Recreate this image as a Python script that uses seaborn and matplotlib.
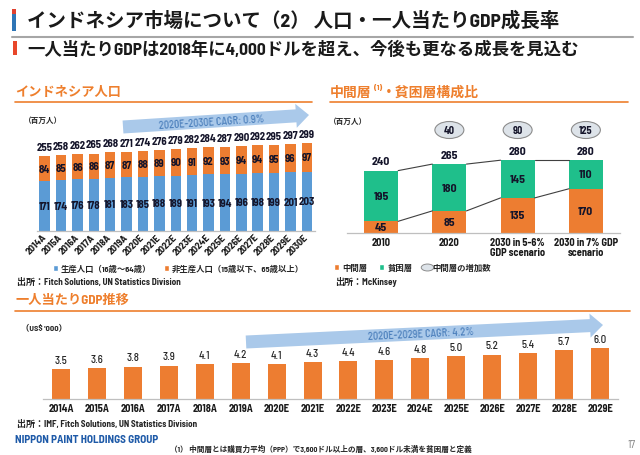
import numpy as np
import matplotlib
matplotlib.use("Agg")
import matplotlib.pyplot as plt
import matplotlib.transforms as mtransforms
import seaborn as sns
from matplotlib.patches import Rectangle, FancyArrow, Ellipse, Patch
from matplotlib.lines import Line2D
from matplotlib.path import Path

# ---------------- data ----------------
pop_years = ['2014A', '2015A', '2016A', '2017A', '2018A', '2019A', '2020E', '2021E',
             '2022E', '2023E', '2024E', '2025E', '2026E', '2027E', '2028E', '2029E', '2030E']
pop_total = [255, 258, 262, 265, 268, 271, 274, 276, 279, 282, 284, 287, 290, 292, 295, 297, 299]
pop_nonworking = [84, 85, 86, 86, 87, 87, 88, 89, 90, 91, 92, 93, 94, 94, 95, 96, 97]
pop_working = [171, 174, 176, 178, 181, 183, 185, 188, 189, 191, 193, 194, 196, 198, 199, 201, 203]
pop_cagr = '2020E-2030E CAGR: 0.9%'

mc_categories = ['2010', '2020', '2030 in 5-6%\nGDP scenario', '2030 in 7% GDP\nscenario']
mc_middle = [45, 85, 135, 170]
mc_poor = [195, 180, 145, 110]
mc_total = [240, 265, 280, 280]
mc_increase = [None, 40, 90, 125]

gdp_years = ['2014A', '2015A', '2016A', '2017A', '2018A', '2019A', '2020E', '2021E',
             '2022E', '2023E', '2024E', '2025E', '2026E', '2027E', '2028E', '2029E']
gdp_values = [3.5, 3.6, 3.8, 3.9, 4.1, 4.2, 4.1, 4.3, 4.4, 4.6, 4.8, 5.0, 5.2, 5.4, 5.7, 6.0]
gdp_cagr = '2020E-2029E CAGR: 4.2%'

# ---------------- style ----------------
sns.set_theme(style='white')
plt.rcParams['font.family'] = ['Barlow Semi Condensed', 'Noto Sans CJK JP', 'DejaVu Sans']
plt.rcParams['axes.unicode_minus'] = False

ORANGE = '#ed7d31'
BLUE = '#5b9bd5'
GREEN = '#1fbf8b'
LBL = '#14142a'
AXC = '#bfbfbf'
HEAD = '#ee7f2d'

W, H = 640, 456
fig = plt.figure(figsize=(6.4, 4.56), dpi=100)
fig.patch.set_facecolor('white')


def rect(l, r, b, t):
    return [l / W, 1 - b / H, (r - l) / W, (b - t) / H]


def style_axis(ax, n, fs):
    sns.despine(ax=ax, left=True)
    ax.spines['bottom'].set_color(AXC)
    ax.spines['bottom'].set_linewidth(0.9)
    ax.set_yticks([])
    ax.set_xlabel('')
    ax.set_ylabel('')
    ax.set_xlim(-0.5, n - 0.5)
    ax.set_xticks(np.arange(-0.5, n, 1.0), minor=True)
    ax.tick_params(axis='x', which='minor', length=3, color=AXC, width=0.8, direction='out')
    ax.tick_params(axis='x', which='major', length=0, labelsize=fs, labelcolor='#1a1a1a')
    ax.set_facecolor('none')


# ---------------- population chart ----------------
ax1 = fig.add_axes(rect(36.5, 315, 232, 232 - 0.293 * 320))
pop_stack = [w + n for w, n in zip(pop_working, pop_nonworking)]
sns.barplot(x=pop_years, y=pop_stack, color=ORANGE, width=0.64, saturation=1, linewidth=0, ax=ax1)
sns.barplot(x=pop_years, y=pop_working, color=BLUE, width=0.64, saturation=1, linewidth=0, ax=ax1)
for i, (w, n, t) in enumerate(zip(pop_working, pop_nonworking, pop_total)):
    ax1.text(i, w / 2, str(w), ha='center', va='center', fontsize=7.8, fontweight='bold', color=LBL)
    ax1.text(i, w + n / 2, str(n), ha='center', va='center', fontsize=7.8, fontweight='bold', color=LBL)
    ax1.annotate(str(t), xy=(i, w + n), xytext=(0, 3), textcoords='offset points',
                 ha='center', va='bottom', fontsize=7.8, fontweight='bold', color=LBL)
style_axis(ax1, len(pop_years), 7.2)
ax1.set_ylim(0, 320)
ax1.tick_params(axis='x', which='major', pad=3)
for lab in ax1.get_xticklabels():
    lab.set_rotation(45)
    lab.set_ha('right')
    lab.set_va('center')
    lab.set_rotation_mode('anchor')
    lab.set_fontweight('bold')

# ---------------- middle class chart ----------------
ax2 = fig.add_axes(rect(347, 620, 234, 234 - 0.26 * 320))
mc_stack = [m + p for m, p in zip(mc_middle, mc_poor)]
sns.barplot(x=mc_categories, y=mc_stack, color=GREEN, width=0.5, saturation=1, linewidth=0, ax=ax2)
sns.barplot(x=mc_categories, y=mc_middle, color=ORANGE, width=0.5, saturation=1, linewidth=0, ax=ax2)
bw = 0.5
for i in range(len(mc_categories) - 1):
    ax2.plot([i + bw / 2, i + 1 - bw / 2], [mc_stack[i], mc_stack[i + 1]], color='#404040', lw=0.8)
    ax2.plot([i + bw / 2, i + 1 - bw / 2], [mc_middle[i], mc_middle[i + 1]], color='#404040', lw=0.8)
for i, (m, p, t) in enumerate(zip(mc_middle, mc_poor, mc_total)):
    ax2.text(i, m / 2, str(m), ha='center', va='center', fontsize=8.5, fontweight='bold', color=LBL)
    ax2.text(i, m + p / 2, str(p), ha='center', va='center', fontsize=8.5, fontweight='bold', color=LBL)
    ax2.annotate(str(t), xy=(i, m + p), xytext=(0, 3), textcoords='offset points',
                 ha='center', va='bottom', fontsize=8.5, fontweight='bold', color=LBL)
style_axis(ax2, len(mc_categories), 7.5)
ax2.set_ylim(0, 320)
ax2.tick_params(axis='x', which='major', pad=3)
for lab in ax2.get_xticklabels():
    lab.set_fontweight('bold')
    lab.set_linespacing(1.0)
trans2 = mtransforms.blended_transform_factory(ax2.transData, fig.transFigure)
px_per_unit2 = 273 / 4
for i, v in enumerate(mc_increase):
    if v is None:
        continue
    e = Ellipse((i, 1 - 131 / H), width=29 / px_per_unit2, height=17 / H, transform=trans2,
                facecolor='#dde3e9', edgecolor='#8c8c8c', lw=0.8, clip_on=False)
    ax2.add_artist(e)
    ax2.text(i, 1 - 131 / H, str(v), transform=trans2, ha='center', va='center',
             fontsize=7.5, fontweight='bold', color=LBL)

# ---------------- GDP per capita chart ----------------
ax3 = fig.add_axes(rect(43, 618, 400, 400 - 8.55 * 7.5))
sns.barplot(x=gdp_years, y=gdp_values, color=ORANGE, width=0.5, saturation=1, linewidth=0, ax=ax3)
ax3.bar_label(ax3.containers[0], labels=[f'{v:.1f}' for v in gdp_values], padding=3,
              fontsize=7.8, fontweight='medium', color='#262626')
style_axis(ax3, len(gdp_years), 7.5)
ax3.set_ylim(0, 7.5)
ax3.tick_params(axis='x', which='major', pad=3)
for lab in ax3.get_xticklabels():
    lab.set_fontweight('bold')

# ---------------- legends ----------------
lp = dict(size=6, weight='bold')
fig.legend(handles=[Patch(facecolor=BLUE), Patch(facecolor=ORANGE)],
           labels=['生産人口（16歳～64歳）', '非生産人口（15歳以下、65歳以上）'],
           loc='center left', bbox_to_anchor=(53 / W, 1 - 269 / H), bbox_transform=fig.transFigure,
           ncol=2, frameon=False, handlelength=0.6, handleheight=0.6, handletextpad=0.3,
           columnspacing=1.6, borderpad=0, borderaxespad=0, prop=lp)
ell = Path.unit_circle().transformed(mtransforms.Affine2D().scale(1.8, 1.0))
fig.legend(handles=[Patch(facecolor=ORANGE), Patch(facecolor=GREEN),
                    Line2D([], [], ls='none', marker=ell, markersize=9, markerfacecolor='#dde3e9',
                           markeredgecolor='#8c8c8c', markeredgewidth=0.7)],
           labels=['中間層', '貧困層', '中間層の増加数'],
           loc='center left', bbox_to_anchor=(334 / W, 1 - 268 / H), bbox_transform=fig.transFigure,
           ncol=3, frameon=False, handlelength=0.6, handleheight=0.6, handletextpad=0.4,
           columnspacing=1.4, borderpad=0, borderaxespad=0, prop=lp)

# ---------------- overlay (texts & decorations) ----------------
ov = fig.add_axes([0, 0, 1, 1])
ov.set_xlim(0, W)
ov.set_ylim(H, 0)
ov.axis('off')

# title
ov.add_patch(Rectangle((12, 10), 4, 5, facecolor='#e0412f', edgecolor='none'))
ov.add_patch(Rectangle((12, 15), 4, 17, facecolor='#2e75b6', edgecolor='none'))
ov.text(27, 21, 'インドネシア市場について（2） 人口・一人当たりGDP成長率', fontsize=14,
        fontweight='bold', va='center', ha='left', color='#1a1a1a')
ov.plot([12, 633], [37.5, 37.5], color='#a6a6a6', lw=1.5)
ov.add_patch(Rectangle((13, 42), 4, 14, facecolor='#e8472a', edgecolor='none'))
ov.text(27, 49, '一人当たりGDPは2018年に4,000ドルを超え、今後も更なる成長を見込む', fontsize=12.5,
        fontweight='bold', va='center', ha='left', color='#1a1a1a')

# section headers
ov.text(15, 92, 'インドネシア人口', fontsize=9.5, fontweight='bold', color=HEAD, va='center', ha='left')
ov.plot([15, 312], [103, 103], color=HEAD, lw=1.2)
t1 = ov.text(330, 92, '中間層', fontsize=10, fontweight='bold', color=HEAD, va='center', ha='left')
t2 = ov.annotate('(1)', xy=(1, 0.55), xycoords=t1, xytext=(1.5, 0), textcoords='offset points',
                 fontsize=6, fontweight='bold', color=HEAD, va='bottom', ha='left')
ov.annotate('・貧困層構成比', xy=(1, 0), xycoords=(t2, t1), xytext=(0, 0), textcoords='offset points',
            fontsize=10, fontweight='bold', color=HEAD, va='bottom', ha='left')
ov.plot([330, 628], [103, 103], color=HEAD, lw=1.2)
ov.text(15, 300, '一人当たりGDP推移', fontsize=9.5, fontweight='bold', color=HEAD, va='center', ha='left')
ov.plot([15, 630], [312, 312], color=HEAD, lw=1.2)

# units
ov.text(24, 120, '（百万人）', fontsize=5.5, fontweight='bold', color='#262626', va='center', ha='left')
ov.text(329, 121, '（百万人）', fontsize=5.5, fontweight='bold', color='#262626', va='center', ha='left')
ov.text(21, 327, "（US$ '000）", fontsize=6, fontweight='bold', color='#262626', va='center', ha='left')


# CAGR arrows
def cagr_arrow(x0, y0, x1, y1, label, tx, ty):
    ov.add_patch(FancyArrow(x0, y0, x1 - x0, y1 - y0, width=13, head_width=24, head_length=13,
                            length_includes_head=True, facecolor='#aac9ea', edgecolor='none'))
    ang = np.degrees(np.arctan2(y0 - y1, x1 - x0))
    ov.text(tx, ty, label, rotation=ang, rotation_mode='anchor', ha='center', va='center',
            fontsize=7.5, fontweight='medium', color='#4a7ebb')


cagr_arrow(123, 128, 309, 116, pop_cagr, 212, 122.5)
cagr_arrow(246, 343, 603, 326, gdp_cagr, 421, 334.5)

# sources
ov.text(17, 282, '出所：Fitch Solutions, UN Statistics Division', fontsize=6.5, fontweight='bold',
        color='#262626', va='center', ha='left')
ov.text(335, 282, '出所：McKinsey', fontsize=6.5, fontweight='bold', color='#262626', va='center', ha='left')
ov.text(17, 424, '出所：IMF, Fitch Solutions, UN Statistics Division', fontsize=6.5, fontweight='bold',
        color='#262626', va='center', ha='left')

# footer
ov.text(15, 440, 'NIPPON PAINT HOLDINGS GROUP', fontsize=8, fontweight='bold', color='#1e5aa8',
        va='center', ha='left')
ov.text(170, 449, '（1） 中間層とは購買力平均（PPP）で3,600ドル以上の層、3,600ドル未満を貧困層と定義',
        fontsize=5.5, fontweight='bold', color='#262626', va='center', ha='left')
ov.text(636, 445, '17', fontsize=8, color='#7f7f7f', va='center', ha='right')

fig.savefig('out.png', dpi=100)
